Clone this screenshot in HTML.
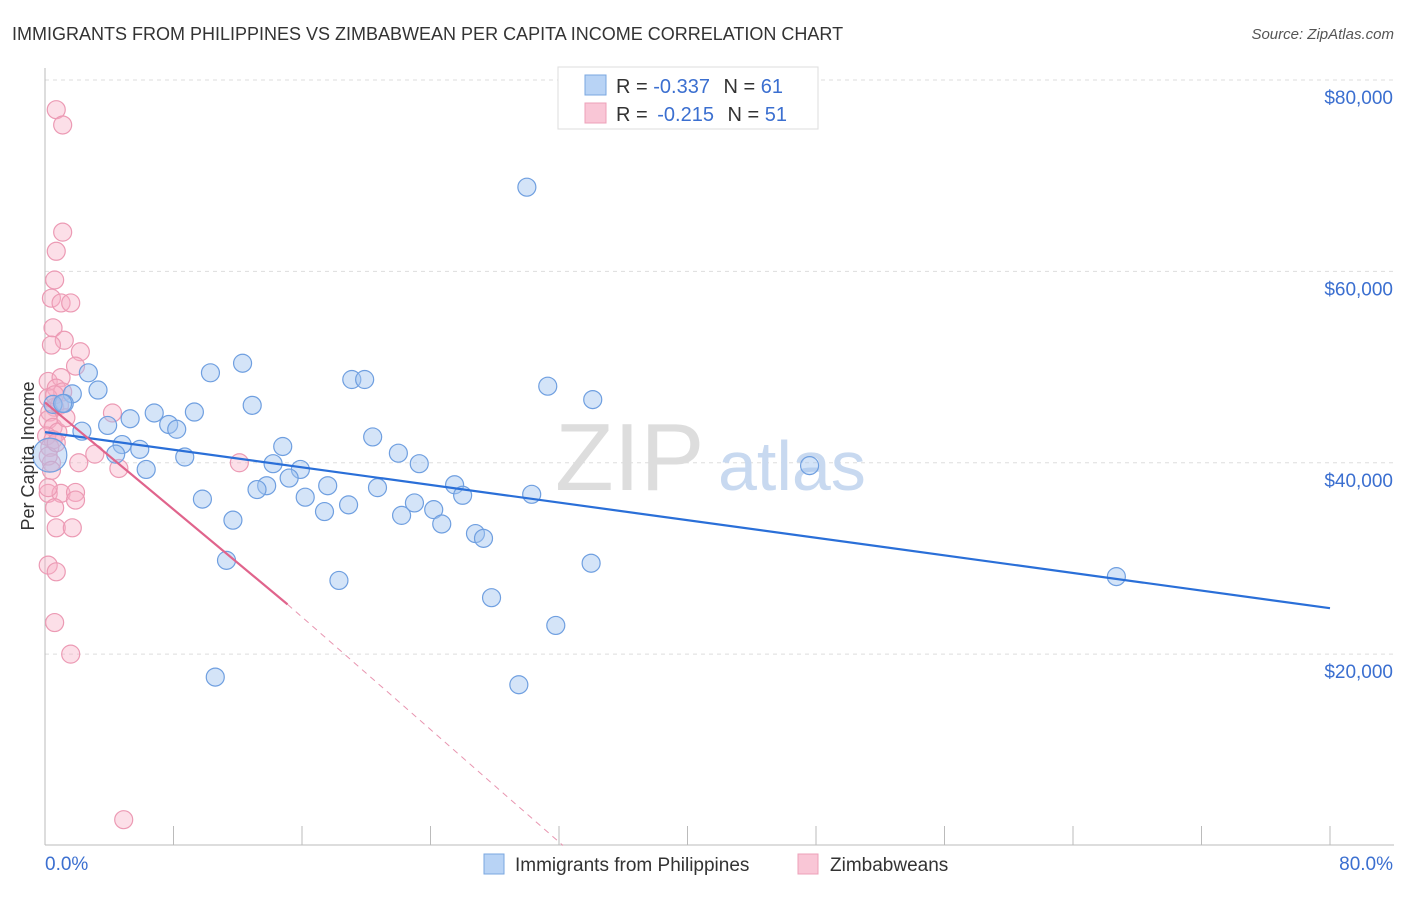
<!DOCTYPE html>
<html><head><meta charset="utf-8"><style>
body{margin:0;background:#fff;font-family:"Liberation Sans",sans-serif;}
svg text{font-family:"Liberation Sans",sans-serif;}
</style></head><body>
<svg id="chart" width="1406" height="892">
<text x="12" y="40" font-size="18" fill="#333">IMMIGRANTS FROM PHILIPPINES VS ZIMBABWEAN PER CAPITA INCOME CORRELATION CHART</text>
<text x="1394" y="39" font-size="15" fill="#555" font-style="italic" text-anchor="end">Source: ZipAtlas.com</text>
<g id="grid"></g>
<text x="555" y="490" font-size="96" fill="#ddd" font-family="Liberation Serif">ZIP</text>
<text x="718" y="490" font-size="70" fill="#c8d9f0">atlas</text>
<g id="axes"></g>
<g id="marks"></g>
<text transform="translate(34,456) rotate(-90)" font-size="18" fill="#333" text-anchor="middle">Per Capita Income</text>
<g>
<rect x="558" y="67" width="260" height="62" fill="#fff" stroke="#ddd"/>
<rect x="585" y="75" width="21" height="20" fill="#b8d3f5" stroke="#7aa7e0"/>
<rect x="585" y="103" width="21" height="20" fill="#f9c6d6" stroke="#eda0b8"/>
<text x="616" y="93" font-size="20" fill="#333">R = <tspan fill="#3b6fd0">-0.337</tspan>   <tspan dx="8">N = </tspan><tspan fill="#3b6fd0">61</tspan></text>
<text x="616" y="121" font-size="20" fill="#333">R = <tspan fill="#3b6fd0" dx="4">-0.215</tspan>   <tspan dx="8">N = </tspan><tspan fill="#3b6fd0">51</tspan></text>
</g>
<g>
<rect x="484" y="854" width="20" height="20" fill="#b8d3f5" stroke="#7aa7e0"/>
<text x="515" y="871" font-size="19" fill="#333">Immigrants from Philippines</text>
<rect x="798" y="854" width="20" height="20" fill="#f9c6d6" stroke="#eda0b8"/>
<text x="830" y="871" font-size="19" fill="#333">Zimbabweans</text>
</g>
</svg>
<script>
const yTicks=[20000,40000,60000,80000];
const yTickLabels=["$20,000","$40,000","$60,000","$80,000"];
const xTicks=[0,8,16,24,32,40,48,56,64,72,80];
const xEndLabels=["0.0%","80.0%"];
const blueX=[30.0,12.3,10.3,2.7,19.1,19.9,31.3,3.3,1.7,34.1,1.2,12.9,9.3,6.8,5.3,7.7,8.2,3.9,2.3,20.4,4.8,5.9,14.8,22.0,4.4,8.7,23.3,14.2,15.9,6.3,47.6,15.2,13.8,13.2,17.6,20.7,25.5,26.0,30.3,16.2,9.8,23.0,18.9,17.4,22.2,24.2,11.7,24.7,26.8,27.3,34.0,11.3,66.7,18.3,27.8,31.8,10.6,29.5,0.3,0.5,1.1];
const blueY=[68.8,50.4,49.4,49.4,48.7,48.7,48.0,47.6,47.2,46.6,46.2,46.0,45.3,45.2,44.6,44.0,43.5,43.9,43.3,42.7,41.9,41.4,41.7,41.0,40.9,40.6,39.9,39.9,39.3,39.3,39.7,38.4,37.6,37.2,37.6,37.4,37.7,36.6,36.7,36.4,36.2,35.8,35.6,34.9,34.5,35.1,34.0,33.6,32.6,32.1,29.5,29.8,28.1,27.7,25.9,23.0,17.6,16.8,40.8,46.1,46.2];
const pinkX=[0.7,1.1,1.1,0.7,0.6,0.4,1.0,1.6,0.5,1.2,0.4,2.2,1.9,0.2,1.0,0.7,1.1,0.2,0.6,0.3,4.2,0.2,0.5,0.8,0.1,0.5,0.3,3.1,2.1,12.1,4.6,0.4,0.2,1.0,1.9,1.9,0.6,0.7,1.7,0.2,0.7,0.6,1.6,4.9,0.2,0.4,0.9,0.2,0.7,1.3,0.6];
const pinkY=[76.9,75.3,64.1,62.1,59.1,57.2,56.7,56.7,54.1,52.8,52.3,51.6,50.1,48.5,48.9,47.8,47.4,46.8,45.8,45.3,45.2,44.5,43.7,43.2,42.8,42.4,41.6,40.9,40.0,40.0,39.4,40.0,36.8,36.8,36.9,36.1,35.3,33.2,33.2,29.3,28.6,23.3,20.0,2.7,40.7,39.2,46.0,37.4,42.1,44.7,47.1];
const blueTrend=[[0,43.2],[80,24.8]];
const pinkTrendSolid=[[0,46.3],[15.1,25.2]];
const pinkTrendDash=[[15.1,25.2],[32.25,0]];
const NS="http://www.w3.org/2000/svg";
const xs=v=>45+v*(1330-45)/80;
const ys=v=>845.5-v*(845.5-80)/80000;
function mk(tag,attrs,parent){const e=document.createElementNS(NS,tag);for(const k in attrs)e.setAttribute(k,attrs[k]);parent.appendChild(e);return e;}
const grid=document.getElementById('grid'),axes=document.getElementById('axes'),marks=document.getElementById('marks');
const tops=[...yTicks];
tops.forEach((t,i)=>{
 const l=mk('line',{x1:45,x2:1394,y1:ys(t),y2:ys(t),stroke:'#ddd','stroke-dasharray':'4,4'},grid);
 
 
 const tx=mk('text',{x:1393,y:ys(t)+24,'font-size':19,fill:'#3b6fd0','text-anchor':'end'},axes);
 tx.textContent=yTickLabels[i];
 
 
});
let a=mk('line',{x1:45,x2:45,y1:68,y2:845,stroke:'#bbb'},axes);


a=mk('line',{x1:45,x2:1394,y1:845,y2:845,stroke:'#bbb'},axes);


xTicks.forEach(t=>{
 const l=mk('line',{x1:xs(t),x2:xs(t),y1:826,y2:845,stroke:'#bbb'},axes);
 
 
});
let t0=mk('text',{x:45,y:870,'font-size':19,fill:'#3b6fd0'},axes);t0.textContent=xEndLabels[0];


let t1=mk('text',{x:1393,y:870,'font-size':19,fill:'#3b6fd0','text-anchor':'end'},axes);t1.textContent=xEndLabels[1];


pinkX.forEach((x,i)=>{
 const c=mk('circle',{cx:xs(x),cy:ys(pinkY[i]*1000),r:9,fill:'rgba(248,175,198,0.4)',stroke:'#ec9ab4','stroke-width':1.2},marks);
 
 
});
blueX.forEach((x,i)=>{
 const c=mk('circle',{cx:xs(x),cy:ys(blueY[i]*1000),r:(i===58?17:9),fill:'rgba(160,196,240,0.45)',stroke:'#6f9fe0','stroke-width':1.2},marks);
 
 
});
function line(p,attrs,name){const l=mk('line',Object.assign({x1:xs(p[0][0]),y1:ys(p[0][1]*1000),x2:xs(p[1][0]),y2:ys(p[1][1]*1000)},attrs),marks);return l;}
let bl=line(blueTrend,{stroke:'#2a6fd8','stroke-width':2.2});


let pl=line(pinkTrendSolid,{stroke:'#e0648c','stroke-width':2.2});


let pd=line(pinkTrendDash,{stroke:'#e895b0','stroke-width':1,'stroke-dasharray':'6,5'});


</script>
</body></html>
